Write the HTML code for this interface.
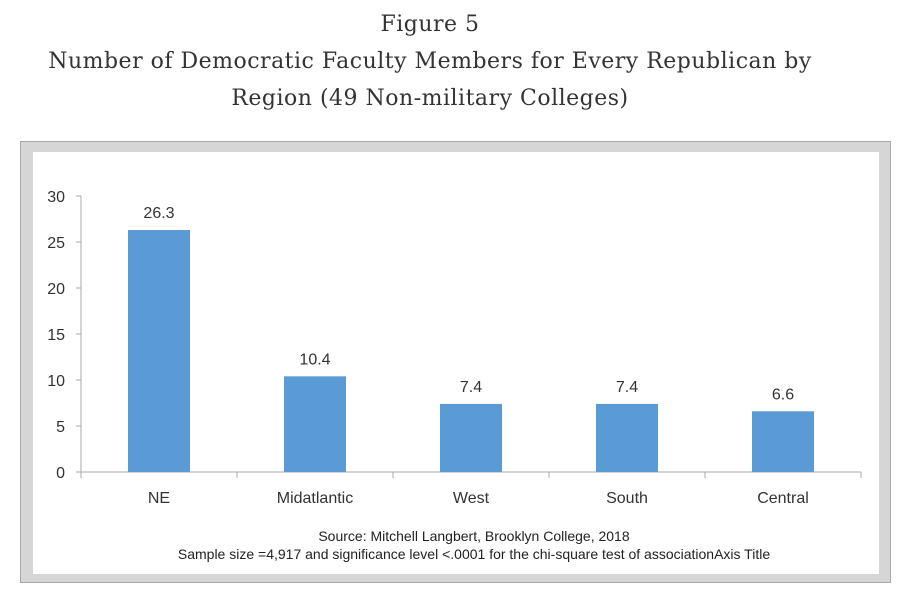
<!DOCTYPE html>
<html><head><meta charset="utf-8"><style>
body{margin:0;width:914px;height:599px;background:#fff;overflow:hidden;position:relative;font-family:"DejaVu Serif",serif}
.t{position:absolute;left:-27px;width:914px;text-align:center;color:#333;font-size:22px;letter-spacing:0.5px;white-space:nowrap}
</style></head><body>
<div class="t" style="top:12px">Figure 5</div>
<div class="t" style="top:49px">Number of Democratic Faculty Members for Every Republican by</div>
<div class="t" style="top:86px">Region (49 Non-military Colleges)</div>
<div style="position:absolute;left:20px;top:141px;width:869px;height:440px;background:#d6d6d6;border:1px solid #a8a8a8"></div>
<div style="position:absolute;left:33px;top:152px;width:846px;height:422px;background:#fff"></div>
<svg id="c" width="914" height="599" style="position:absolute;left:0;top:0" font-family="Liberation Sans, sans-serif"></svg>
<script>
const categories=["NE","Midatlantic","West","South","Central"];
const values=[26.3,10.4,7.4,7.4,6.6];
const yTicks=[0,5,10,15,20,25,30];
const svg=document.getElementById('c');
const NS='http://www.w3.org/2000/svg';
const x0=81,x1=861,yb=472,yt=196,ymax=30;
const y=v=>yb-(yb-yt)*v/ymax;
const bw=(x1-x0)/categories.length;
const xc=i=>x0+bw*(i+0.5);
function mk(t,a,txt){const e=document.createElementNS(NS,t);for(const k in a)e.setAttribute(k,a[k]);if(txt!=null)e.textContent=txt;svg.appendChild(e);return e;}
let e=mk('line',{x1:x0,y1:yt,x2:x0,y2:yb,stroke:'#aaa'});


e=mk('line',{x1:x0-5,y1:yb,x2:x1,y2:yb,stroke:'#aaa'});


yTicks.forEach(v=>{
 e=mk('line',{x1:x0-5,y1:y(v),x2:x0,y2:y(v),stroke:'#aaa'});
 
 
 e=mk('text',{x:x0-16,y:y(v)+6,'text-anchor':'end','font-size':16,fill:'#333'},v);
 
 
});
for(let i=0;i<=categories.length;i++){
 e=mk('line',{x1:x0+bw*i,y1:yb,x2:x0+bw*i,y2:yb+6,stroke:'#aaa'});
 
 
}
categories.forEach((c,i)=>{
 e=mk('rect',{x:xc(i)-31,y:y(values[i]),width:62,height:yb-y(values[i]),fill:'#5b9bd5'});
 
 
 e=mk('text',{x:xc(i),y:y(values[i])-12,'text-anchor':'middle','font-size':16,fill:'#333'},values[i].toFixed(1));
 
 
 e=mk('text',{x:xc(i),y:503,'text-anchor':'middle','font-size':16,fill:'#333'},c);
 
 
});
e=mk('text',{x:474,y:541,'text-anchor':'middle','font-size':14,fill:'#222'},'Source: Mitchell Langbert, Brooklyn College, 2018');


e=mk('text',{x:474,y:559,'text-anchor':'middle','font-size':14,fill:'#222'},'Sample size =4,917 and significance level <.0001 for the chi-square test of associationAxis Title');


</script>
</body></html>
